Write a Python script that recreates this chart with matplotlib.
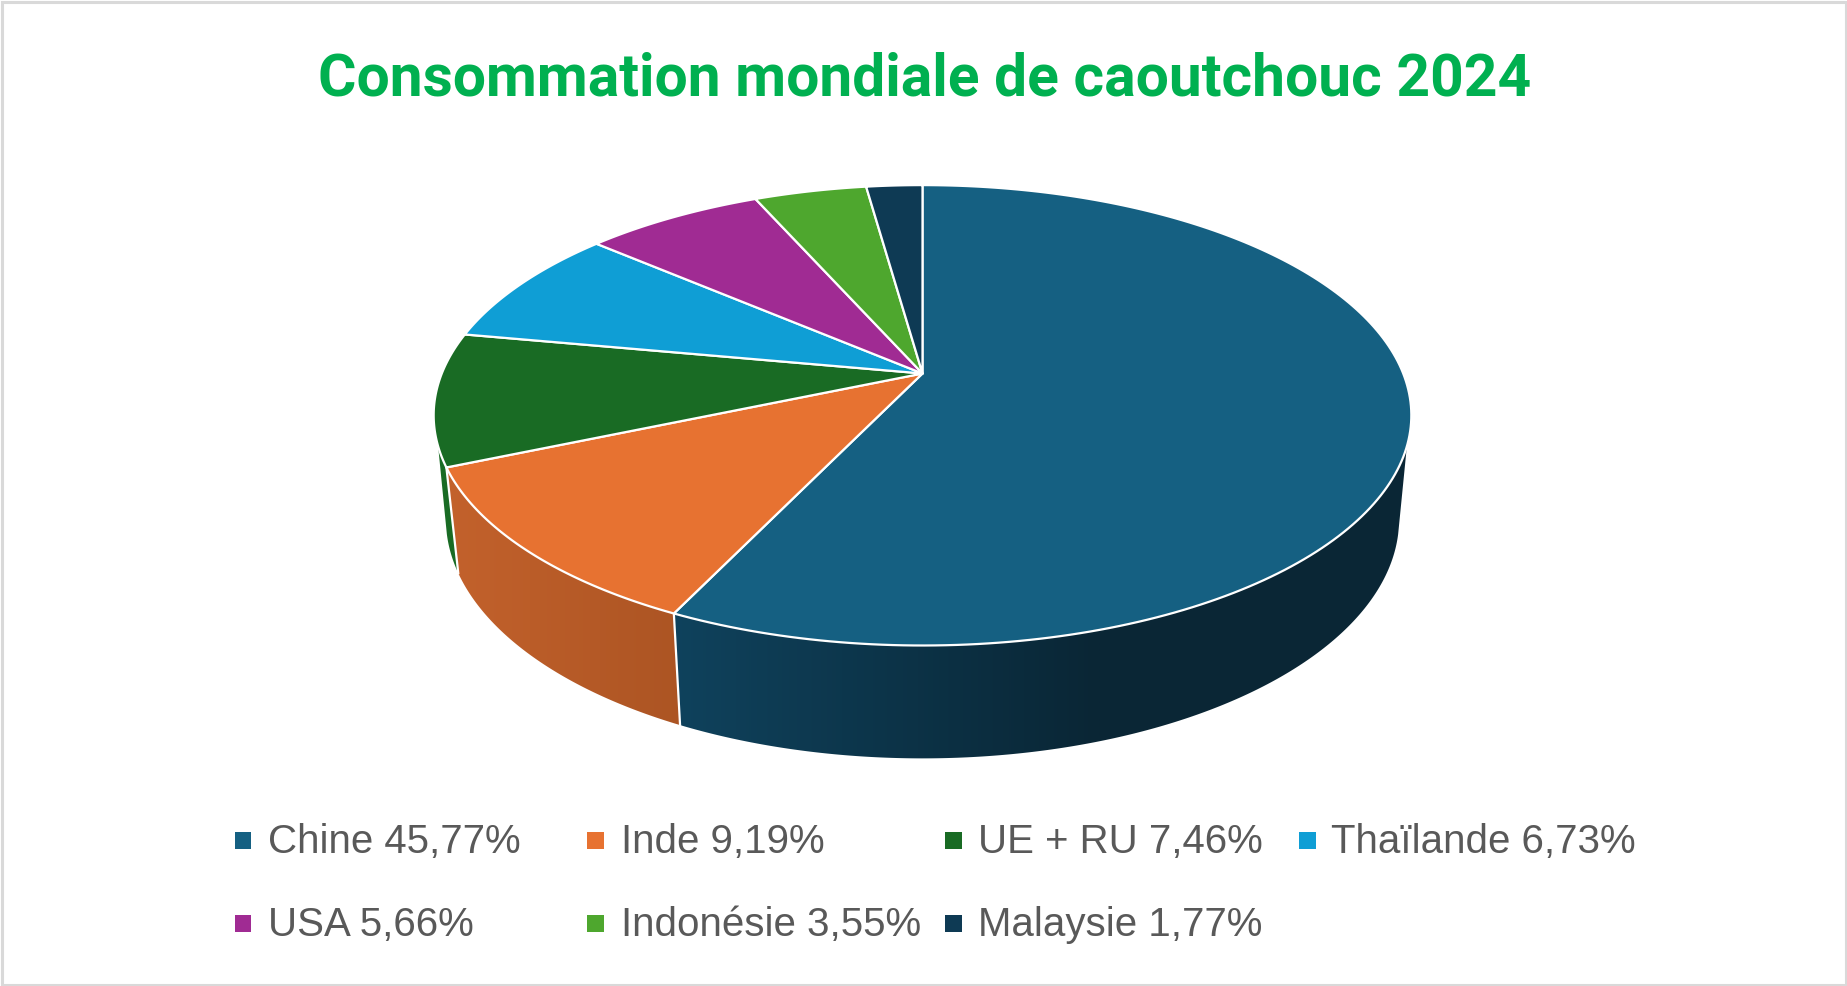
import numpy as np
import matplotlib
matplotlib.use("Agg")
from matplotlib import pyplot as plt
from matplotlib.colors import LinearSegmentedColormap
from matplotlib.patches import Polygon, Rectangle

title = "Consommation mondiale de caoutchouc 2024"
countries = ["Chine", "Inde", "UE + RU", "Thaïlande", "USA", "Indonésie", "Malaysie"]
shares = [45.77, 9.19, 7.46, 6.73, 5.66, 3.55, 1.77]
colors = ["#156082", "#E77231", "#196B24", "#0F9ED5", "#A02B93", "#4EA72E", "#0E3A54"]

# pie geometry in pixels, fitted on the reference (perspective circle)
cx, cy = 922.5, 373.5
a, c, k = 480.7, 222.6, 0.1816
sx, sy, drop = 0.975, 1.04, 102.0


def rim(theta):
    t = np.radians(theta)
    den = 1 + k * np.cos(t)
    return a * np.sin(t) / den, -c * np.cos(t) / den


def top(theta):
    x, y = rim(theta)
    return cx + x, cy + y


def low(theta):
    x, y = rim(theta)
    return cx + sx * x, cy + sy * y + drop


def arc(f, t0, t1):
    x, y = f(np.linspace(t0, t1, 200))
    return np.column_stack([x, y])


fig = plt.figure(figsize=(18.47, 9.86), dpi=100, facecolor="white")
ax = fig.add_axes([0, 0, 1, 1])
plt.rcParams["font.family"] = ["Liberation Sans", "DejaVu Sans"]

edges = np.concatenate([[0], np.cumsum(shares)]) / sum(shares) * 360

# side of the disc, only between the two silhouette angles
side_top = (108, 252)
side_low = (104, 256)
side_cols = {0: ("#0F435E", "#0A2635", 660, 1100),
             1: ("#C4622C", "#AB5423", 440, 690)}

for i in [2, 1, 0]:
    t0, t1 = edges[i], edges[i + 1]
    upper = arc(top, max(t0, side_top[0]), min(t1, side_top[1]))
    lower = arc(low, max(t0, side_low[0]), min(t1, side_low[1]))
    poly = np.vstack([upper, lower[::-1]])
    if i in side_cols:
        c0, c1, x0, x1 = side_cols[i]
        cmap = LinearSegmentedColormap.from_list("side", [c0, c1])
        im = ax.imshow(np.linspace(0, 1, 256).reshape(1, -1), cmap=cmap, aspect="auto",
                       extent=(x0, x1, 800, 300), zorder=1)
        xmax = poly[:, 0].max() + 2
        if xmax > x1:
            ax.add_patch(Rectangle((x1, 300), xmax - x1, 500, fc=c1, ec="none", zorder=1,
                                   clip_path=Polygon(poly, transform=ax.transData)))
        im.set_clip_path(Polygon(poly, transform=ax.transData))
    else:
        ax.add_patch(Polygon(poly, fc=colors[i], ec="none", zorder=1))

# white seams on the side
for t in [edges[1], edges[2]]:
    ax.plot([top(t)[0], low(t)[0]], [top(t)[1], low(t)[1]], color="white", lw=1.6, zorder=2)

# top face
for i in range(len(shares)):
    pts = np.vstack([[cx, cy], arc(top, edges[i], edges[i + 1])])
    ax.add_patch(Polygon(pts, fc=colors[i], ec="white", lw=1.6, joinstyle="round", zorder=3))

ax.text(924.5, 96, title, color="#00B050", fontsize=42.3, fontweight="bold", family="Roboto",
        ha="center", va="baseline", zorder=5)

# legend
marker_x = [234.5, 587, 945, 1299, 234.5, 587, 945]
text_x = [268.5, 621, 977.6, 1331, 268.5, 621, 977.6]
row_y = [853, 853, 853, 853, 936, 936, 936]
for i, name in enumerate(countries):
    ax.add_patch(Rectangle((marker_x[i], row_y[i] - 21), 16.5, 16.5, fc=colors[i], ec="none"))
    label = f"{name} {shares[i]:.2f}%".replace(".", ",")
    ax.text(text_x[i], row_y[i], label, color="#595959", fontsize=29, ha="left", va="baseline")

# chart border
ax.add_patch(Rectangle((1.5, 1.5), 1844, 983, fc="none", ec="#D9D9D9", lw=2.2, zorder=6))

ax.set_xlim(0, 1847)
ax.set_ylim(986, 0)
ax.axis("off")
fig.savefig("out.png", dpi=100)
